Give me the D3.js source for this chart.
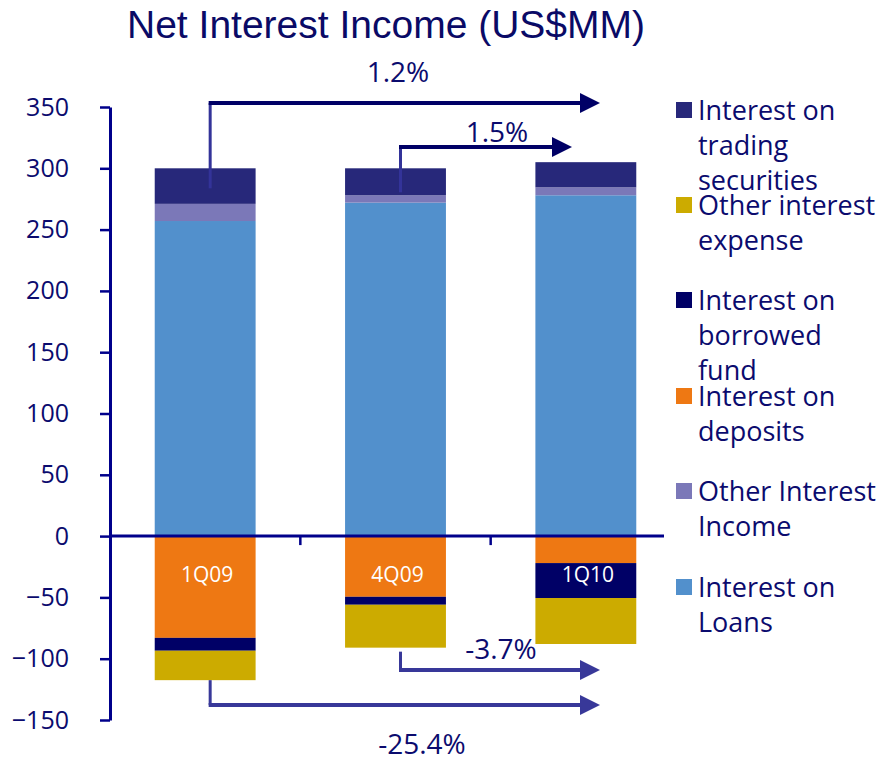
<!DOCTYPE html>
<html><head><meta charset="utf-8">
<script src="https://cdn.jsdelivr.net/npm/d3@7"></script>
<style>body{margin:0;background:#fff}svg{display:block}</style>
</head><body>
<svg id="chart" width="883" height="762"></svg>
<script>
const categories = ["1Q09", "4Q09", "1Q10"];
const loans = [257, 272, 278];
const otherIncome = [14, 6, 6.5];
const trading = [29, 22, 20.5];
const deposits = [-83, -49.5, -22];
const borrowed = [-10.5, -6.5, -28.5];
const otherExpense = [-24, -35, -37.5];
const yTicks = [350, 300, 250, 200, 150, 100, 50, 0, -50, -100, -150];
const growthLabels = ["1.2%", "1.5%", "-3.7%", "-25.4%"];

const posSeries = [
  {name: "Interest on Loans", values: loans, color: "#5290cc"},
  {name: "Other Interest Income", values: otherIncome, color: "#7b78b8"},
  {name: "Interest on trading securities", values: trading, color: "#27287a"}
];
const negSeries = [
  {name: "Interest on deposits", values: deposits, color: "#ee7813"},
  {name: "Interest on borrowed fund", values: borrowed, color: "#000066"},
  {name: "Other interest expense", values: otherExpense, color: "#ccab00"}
];
const legendItems = [
  {lines: ["Interest on", "trading", "securities"], color: "#27287a"},
  {lines: ["Other interest", "expense"], color: "#ccab00"},
  {lines: ["Interest on", "borrowed", "fund"], color: "#000066"},
  {lines: ["Interest on", "deposits"], color: "#ee7813"},
  {lines: ["Other Interest", "Income"], color: "#7b78b8"},
  {lines: ["Interest on", "Loans"], color: "#5290cc"}
];

const svg = d3.select("#chart");
const navy = "#00008b";
const textNavy = "#0b0b6e";
const font = "'Open Sans', sans-serif";

const y = d3.scaleLinear().domain([-150, 350]).range([720, 107]);
const x = d3.scaleBand().domain(categories).range([110, 681]).paddingInner(0.47).paddingOuter(0.235);

// bars
function stack(series) {
  categories.forEach((c, i) => {
    let base = 0;
    series.forEach(s => {
      const v = s.values[i];
      const top = base + v;
      svg.append("rect")
        .attr("x", x(c)).attr("width", x.bandwidth())
        .attr("y", y(Math.max(base, top)))
        .attr("height", Math.abs(y(base) - y(top)))
        .attr("fill", s.color);
      base = top;
    });
  });
}
stack(posSeries);
stack(negSeries);

// y axis
const yAxis = d3.axisLeft(y).tickValues(yTicks).tickSize(10).tickSizeOuter(0).tickPadding(31);
const gy = svg.append("g").attr("transform", "translate(110,0)").call(yAxis);
gy.select(".domain").attr("stroke", navy).attr("stroke-width", 3);
gy.selectAll(".tick line").attr("stroke", navy).attr("stroke-width", 2.5);
gy.selectAll(".tick text").attr("fill", textNavy).style("font-family", font).style("font-size", "25px");

// zero line + category ticks
svg.append("line").attr("x1", 110).attr("x2", 664).attr("y1", y(0)).attr("y2", y(0))
  .attr("stroke", navy).attr("stroke-width", 3);
const bstep = x.step();
for (let i = 1; i < categories.length; i++) {
  const xx = x(categories[i]) - (bstep - x.bandwidth()) / 2;
  svg.append("line").attr("x1", xx).attr("x2", xx).attr("y1", y(0)).attr("y2", y(0) + 9)
    .attr("stroke", navy).attr("stroke-width", 2.5);
}

// category labels inside bars
categories.forEach(c => {
  svg.append("text").attr("x", x(c) + x.bandwidth() / 2 + 2).attr("y", 582)
    .attr("text-anchor", "middle").attr("fill", "#fff")
    .style("font-family", font).style("font-size", "21px").text(c);
});

// title
svg.append("text").attr("x", 386).attr("y", 38).attr("text-anchor", "middle")
  .attr("fill", "#0a0a66").style("font-family", "'Liberation Sans', Arial, sans-serif")
  .style("font-size", "39px").text("Net Interest Income (US$MM)");

// growth arrows
const cx = c => x(c) + x.bandwidth() / 2 + 5;
function arrow(x0, yStart, yLevel, xTip, color, hColor) {
  svg.append("line").attr("x1", x0).attr("x2", x0).attr("y1", yStart).attr("y2", yLevel)
    .attr("stroke", color).attr("stroke-width", 3);
  svg.append("line").attr("x1", x0 - 1.5).attr("x2", xTip - 18).attr("y1", yLevel).attr("y2", yLevel)
    .attr("stroke", hColor).attr("stroke-width", 4);
  svg.append("path")
    .attr("d", `M${xTip - 20},${yLevel - 10}L${xTip},${yLevel}L${xTip - 20},${yLevel + 10}Z`)
    .attr("fill", hColor);
}
arrow(cx("1Q09"), y(trading[0] + otherIncome[0] + loans[0]) + 20, 103, 600, "#333399", "#000066");
arrow(cx("4Q09"), y(trading[1] + otherIncome[1] + loans[1]) + 24, 147, 572, "#333399", "#000066");
arrow(cx("4Q09"), y(deposits[1] + borrowed[1] + otherExpense[1]) + 4, 670, 600, "#383899", "#383899");
arrow(cx("1Q09"), y(deposits[0] + borrowed[0] + otherExpense[0]), 705, 600, "#383899", "#383899");

const glab = [[398, 82], [497, 142], [501, 659], [422, 754]];
growthLabels.forEach((t, i) => {
  svg.append("text").attr("x", glab[i][0]).attr("y", glab[i][1]).attr("text-anchor", "middle")
    .attr("fill", textNavy).style("font-family", font).style("font-size", "28px").text(t);
});

// legend
const legStarts = [110, 205, 300, 396, 491, 587];
legendItems.forEach((it, i) => {
  const y0 = legStarts[i];
  svg.append("rect").attr("x", 676).attr("y", y0 - 8).attr("width", 16).attr("height", 16).attr("fill", it.color);
  it.lines.forEach((l, j) => {
    svg.append("text").attr("x", 698).attr("y", y0 + 10 + j * 35)
      .attr("fill", textNavy).style("font-family", font).style("font-size", "27px").text(l);
  });
});
</script>
</body></html>
